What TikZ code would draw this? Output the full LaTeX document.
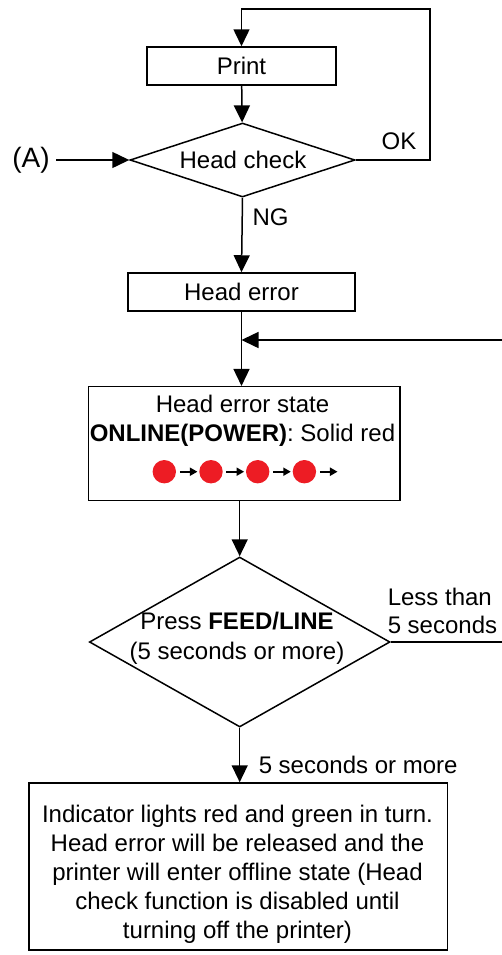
\documentclass[tikz,border=0pt]{standalone}
\usepackage{fontspec}
\setmainfont{Liberation Sans}
\usetikzlibrary{arrows.meta,positioning,shapes.geometric}
\definecolor{ledred}{RGB}{237,28,36}
\begin{document}
\begin{tikzpicture}[x=0.5pt,y=-0.5pt, font=\fontsize{12}{14.4}\selectfont, line width=0.75pt, box/.style={draw,align=center,inner sep=0pt}, choice/.style={draw,diamond,inner sep=0pt,aspect=2}, flow/.style={-{Triangle[length=8.5pt,width=8pt]}}, tick/.style={-{Triangle[length=3.8pt,width=4pt]},line width=1pt}, lamp/.style={circle,fill=ledred,inner sep=0pt,minimum size=11.7pt}]
\useasboundingbox (0,0) rectangle (502,955);
\node[box, minimum width=94.5pt, minimum height=19pt] (print) at (241.5,66) {Print};
\node[choice, minimum width=112.5pt, minimum height=37pt] (check) at (242.5,160) {};
\node (checktxt) at (243,160) {Head check};
\node[font=\fontsize{14}{16}\selectfont, inner sep=3pt] (entry) at (31,160) {(A)};
\node[box, minimum width=113.5pt, minimum height=19pt] (herror) at (241.5,292) {Head error};
\node[box, minimum width=155.8pt, minimum height=57pt] (state) at (244.2,443.7) {};
\node[align=center] (statetxt) at (242.5,421) {Head error state\\\textbf{ONLINE(POWER)}: Solid red};
\node[choice, minimum width=150.3pt, minimum height=85pt] (press) at (239.7,642) {};
\node[align=center] (presstxt) at (237,638) {Press \textbf{FEED/LINE}\\[0.6pt](5 seconds or more)};
\node[box, minimum width=209.2pt, minimum height=83.5pt] (done) at (238.2,866.5) {};
\node[align=center] (donetxt) at (237.5,874.3) {Indicator lights red and green in turn.\\Head error will be released and the\\printer will enter offline state (Head\\check function is disabled until\\turning off the printer)};
\coordinate (loop) at (430,9);
\coordinate (back) at (502,340);
\coordinate (retry) at (502,642);
\draw[flow] (print) -- (check);
\draw[flow] (entry) -- (check.west);
\draw[flow] (check.east) -| (loop) -| (print.north);
\node (ok) at (399,141) {OK};
\draw[flow] (check.south) -- node[pos=0.26, right=1.5pt] (ng) {NG} (herror.north);
\draw[flow] (herror.south) -- (herror.south |- state.north);
\draw[flow] (back) -- (back -| herror.south);
\foreach \i in {0,...,3} {
  \node[lamp] (lamp\i) at (164.3+46.7*\i,471.7) {};
  \draw[tick] ([xshift=1.5pt]lamp\i.east) -- ++(17.7,0);
}
\draw[flow] (press.north |- state.south) -- (press.north);
\draw (press.east) -- (retry);
\node[anchor=west, align=left, inner sep=0pt] (short) at (387,611) {Less than\\5 seconds};
\draw[flow] (press.south) -- (done.north -| press.south);
\node[anchor=west, inner sep=0pt] (more) at (258,765) {5 seconds or more};
\end{tikzpicture}
\end{document}
